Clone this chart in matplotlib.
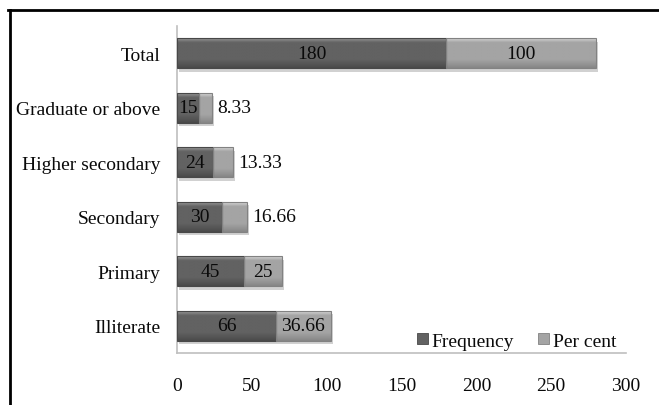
import numpy as np
import matplotlib
matplotlib.use("Agg")
import matplotlib.pyplot as plt
import matplotlib.patheffects as pe
from matplotlib.lines import Line2D
from matplotlib.colors import to_rgb

# Education level of respondents (bottom to top)
categories = ["Illiterate", "Primary", "Secondary", "Higher secondary",
              "Graduate or above", "Total"]
frequency = [66, 45, 30, 24, 15, 180]
per_cent = [36.66, 25, 16.66, 13.33, 8.33, 100]
x_ticks = [0, 50, 100, 150, 200, 250, 300]

plt.rcParams["font.family"] = ["Liberation Serif", "DejaVu Serif"]

fig = plt.figure(figsize=(6.59, 4.06), dpi=100)
ax = fig.add_axes([177 / 659, 1 - 354 / 406, (626 - 177) / 659, (354 - 27) / 406])

y = np.arange(len(categories))
bar_h = 0.55

dark = {"base": "#626262", "top": "#959595", "bottom": "#4a4a4a", "edge": "#484848"}
light = {"base": "#a4a4a4", "top": "#d2d2d2", "bottom": "#878787", "edge": "#828282"}

shadow = [pe.SimplePatchShadow(offset=(1.5, -2.5), shadow_rgbFace="#999999", alpha=0.45),
          pe.Normal()]


def bevel(pal, n=40):
    """Vertical shading: highlight on top, body, darker lower band."""
    t = np.linspace(0, 1, n)
    top, base, bot = (np.array(to_rgb(pal[k])) for k in ("top", "base", "bottom"))
    rows = []
    for v in t:
        if v < 0.14:
            c = top + (base - top) * (v / 0.14)
        elif v < 0.72:
            c = base
        else:
            c = base + (bot - base) * ((v - 0.72) / 0.28)
        rows.append(c)
    return np.array(rows).reshape(n, 1, 3)


def shade(container, pal):
    img = bevel(pal)
    for p in container.patches:
        x0, y0 = p.get_x(), p.get_y()
        w, h = p.get_width(), p.get_height()
        im = ax.imshow(img, extent=(x0, x0 + w, y0, y0 + h), origin="upper",
                       aspect="auto", interpolation="bilinear", zorder=3)
        im.set_clip_path(p)
        # crisp outline on top of the shading
        ax.add_patch(plt.Rectangle((x0, y0), w, h, fill=False, ec=pal["edge"],
                                   lw=0.8, zorder=4))


b1 = ax.barh(y, frequency, height=bar_h, color=dark["base"], zorder=2,
             label="Frequency", path_effects=shadow)
b2 = ax.barh(y, per_cent, left=frequency, height=bar_h, color=light["base"],
             zorder=2, label="Per cent", path_effects=shadow)
shade(b1, dark)
shade(b2, light)

fs = 14
txt = "#0a0a0a"


def fmt(v):
    return f"{v:g}" if float(v).is_integer() else f"{v:.2f}"


for yi, f, p in zip(y, frequency, per_cent):
    ax.text(f / 2, yi, fmt(f), ha="center", va="center", fontsize=fs,
            color=txt, zorder=5)
    if p >= 20:
        ax.text(f + p / 2, yi, fmt(p), ha="center", va="center", fontsize=fs,
                color=txt, zorder=5)
    else:
        ax.annotate(fmt(p), (f + p, yi), xytext=(4, 0), textcoords="offset points",
                    ha="left", va="center", fontsize=fs, color=txt, zorder=5)

ax.set_xlim(0, 300)
ax.set_ylim(-0.5, len(categories) - 0.5)
ax.set_xticks(x_ticks)
ax.set_xticklabels([str(t) for t in x_ticks])
ax.set_yticks(y)
ax.set_yticklabels(categories)
ax.tick_params(axis="both", length=0, labelsize=fs, colors=txt)
ax.tick_params(axis="x", pad=17)
ax.tick_params(axis="y", pad=12)

for s in ("top", "right"):
    ax.spines[s].set_visible(False)
for s in ("left", "bottom"):
    ax.spines[s].set_color("#bfbfbf")
    ax.spines[s].set_linewidth(1.2)

leg = ax.legend(loc="lower right", bbox_to_anchor=(1.005, -0.025), ncol=2,
                frameon=False, fontsize=fs, handlelength=0.55, handleheight=0.55,
                handletextpad=0.2, columnspacing=1.25, borderaxespad=0.2,
                labelcolor=txt)
for h, pal in zip(leg.legend_handles, (dark, light)):
    h.set_path_effects([])
    h.set_edgecolor(pal["edge"])
    h.set_linewidth(0.6)

# outer frame: top and left rules
fig.add_artist(Line2D([8 / 659, 1], [1 - 11 / 406, 1 - 11 / 406],
                      transform=fig.transFigure, color="black", lw=2))
fig.add_artist(Line2D([10 / 659, 10 / 659], [1 - 11 / 406, 0],
                      transform=fig.transFigure, color="black", lw=2))

fig.savefig("out.png", dpi=100)
